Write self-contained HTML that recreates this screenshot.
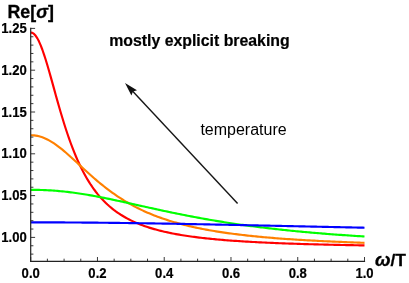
<!DOCTYPE html>
<html><head><meta charset="utf-8"><title>plot</title>
<style>
html,body{margin:0;padding:0;background:#fff;}
svg{display:block;will-change:transform;font-family:"Liberation Sans",sans-serif;}
</style></head>
<body>
<svg width="409" height="283" viewBox="0 0 409 283">
<rect width="409" height="283" fill="#fff"/>
<g>
<path d="M30.70,32.50 L32.37,32.86 L34.04,33.97 L35.71,35.82 L37.38,38.37 L39.05,41.59 L40.71,45.41 L42.38,49.76 L44.05,54.57 L45.72,59.77 L47.39,65.27 L49.06,71.00 L50.73,76.90 L52.40,82.89 L54.07,88.91 L55.73,94.93 L57.40,100.88 L59.07,106.74 L60.74,112.47 L62.41,118.06 L64.08,123.47 L65.75,128.71 L67.42,133.75 L69.09,138.60 L70.76,143.24 L72.42,147.69 L74.09,151.94 L75.76,156.00 L77.43,159.86 L79.10,163.54 L80.77,167.05 L82.44,170.38 L84.11,173.55 L85.78,176.56 L87.45,179.42 L89.12,182.14 L90.78,184.72 L92.45,187.18 L94.12,189.51 L95.79,191.73 L97.46,193.84 L99.13,195.85 L100.80,197.76 L102.47,199.58 L104.14,201.31 L105.81,202.95 L107.47,204.52 L109.14,206.02 L110.81,207.45 L112.48,208.81 L114.15,210.11 L115.82,211.35 L117.49,212.53 L119.16,213.66 L120.83,214.75 L122.50,215.78 L124.16,216.77 L125.83,217.72 L127.50,218.63 L129.17,219.50 L130.84,220.34 L132.51,221.14 L134.18,221.91 L135.85,222.65 L137.52,223.35 L139.19,224.03 L140.85,224.69 L142.52,225.32 L144.19,225.92 L145.86,226.51 L147.53,227.07 L149.20,227.61 L150.87,228.13 L152.54,228.63 L154.21,229.11 L155.88,229.58 L157.54,230.03 L159.21,230.46 L160.88,230.88 L162.55,231.29 L164.22,231.68 L165.89,232.06 L167.56,232.42 L169.23,232.78 L170.90,233.12 L172.56,233.45 L174.23,233.77 L175.90,234.09 L177.57,234.39 L179.24,234.68 L180.91,234.96 L182.58,235.24 L184.25,235.50 L185.92,235.76 L187.59,236.01 L189.25,236.25 L190.92,236.49 L192.59,236.72 L194.26,236.94 L195.93,237.16 L197.60,237.37 L199.27,237.57 L200.94,237.77 L202.61,237.96 L204.28,238.15 L205.94,238.34 L207.61,238.51 L209.28,238.69 L210.95,238.86 L212.62,239.02 L214.29,239.18 L215.96,239.34 L217.63,239.49 L219.30,239.64 L220.97,239.78 L222.64,239.92 L224.30,240.06 L225.97,240.20 L227.64,240.33 L229.31,240.45 L230.98,240.58 L232.65,240.70 L234.32,240.82 L235.99,240.94 L237.66,241.05 L239.32,241.16 L240.99,241.27 L242.66,241.37 L244.33,241.48 L246.00,241.58 L247.67,241.68 L249.34,241.77 L251.01,241.87 L252.68,241.96 L254.35,242.05 L256.02,242.14 L257.68,242.23 L259.35,242.31 L261.02,242.39 L262.69,242.48 L264.36,242.55 L266.03,242.63 L267.70,242.71 L269.37,242.78 L271.04,242.86 L272.70,242.93 L274.37,243.00 L276.04,243.07 L277.71,243.14 L279.38,243.20 L281.05,243.27 L282.72,243.33 L284.39,243.39 L286.06,243.45 L287.73,243.51 L289.39,243.57 L291.06,243.63 L292.73,243.69 L294.40,243.74 L296.07,243.80 L297.74,243.85 L299.41,243.91 L301.08,243.96 L302.75,244.01 L304.42,244.06 L306.09,244.11 L307.75,244.16 L309.42,244.20 L311.09,244.25 L312.76,244.29 L314.43,244.34 L316.10,244.38 L317.77,244.43 L319.44,244.47 L321.11,244.51 L322.77,244.55 L324.44,244.59 L326.11,244.63 L327.78,244.67 L329.45,244.71 L331.12,244.75 L332.79,244.79 L334.46,244.82 L336.13,244.86 L337.80,244.89 L339.47,244.93 L341.13,244.96 L342.80,245.00 L344.47,245.03 L346.14,245.06 L347.81,245.10 L349.48,245.13 L351.15,245.16 L352.82,245.19 L354.49,245.22 L356.15,245.25 L357.82,245.28 L359.49,245.31 L361.16,245.34 L362.83,245.37 L364.50,245.39" fill="none" stroke="#ff0000" stroke-width="2.15" stroke-linejoin="round"/>
<path d="M30.70,135.26 L32.37,135.30 L34.04,135.42 L35.71,135.63 L37.38,135.92 L39.05,136.30 L40.71,136.77 L42.38,137.33 L44.05,137.97 L45.72,138.69 L47.39,139.50 L49.06,140.38 L50.73,141.33 L52.40,142.35 L54.07,143.44 L55.73,144.59 L57.40,145.79 L59.07,147.05 L60.74,148.35 L62.41,149.70 L64.08,151.09 L65.75,152.51 L67.42,153.96 L69.09,155.44 L70.76,156.94 L72.42,158.45 L74.09,159.98 L75.76,161.52 L77.43,163.06 L79.10,164.61 L80.77,166.16 L82.44,167.70 L84.11,169.24 L85.78,170.77 L87.45,172.29 L89.12,173.80 L90.78,175.29 L92.45,176.76 L94.12,178.22 L95.79,179.66 L97.46,181.08 L99.13,182.47 L100.80,183.85 L102.47,185.20 L104.14,186.53 L105.81,187.83 L107.47,189.11 L109.14,190.37 L110.81,191.60 L112.48,192.80 L114.15,193.98 L115.82,195.14 L117.49,196.27 L119.16,197.37 L120.83,198.45 L122.50,199.51 L124.16,200.54 L125.83,201.55 L127.50,202.53 L129.17,203.49 L130.84,204.43 L132.51,205.35 L134.18,206.24 L135.85,207.11 L137.52,207.96 L139.19,208.79 L140.85,209.60 L142.52,210.39 L144.19,211.16 L145.86,211.91 L147.53,212.64 L149.20,213.35 L150.87,214.05 L152.54,214.73 L154.21,215.39 L155.88,216.04 L157.54,216.67 L159.21,217.28 L160.88,217.88 L162.55,218.46 L164.22,219.03 L165.89,219.59 L167.56,220.13 L169.23,220.66 L170.90,221.18 L172.56,221.68 L174.23,222.17 L175.90,222.65 L177.57,223.12 L179.24,223.58 L180.91,224.02 L182.58,224.46 L184.25,224.88 L185.92,225.30 L187.59,225.70 L189.25,226.10 L190.92,226.48 L192.59,226.86 L194.26,227.23 L195.93,227.59 L197.60,227.94 L199.27,228.28 L200.94,228.62 L202.61,228.95 L204.28,229.27 L205.94,229.58 L207.61,229.89 L209.28,230.19 L210.95,230.48 L212.62,230.77 L214.29,231.05 L215.96,231.32 L217.63,231.59 L219.30,231.85 L220.97,232.11 L222.64,232.36 L224.30,232.61 L225.97,232.85 L227.64,233.08 L229.31,233.32 L230.98,233.54 L232.65,233.76 L234.32,233.98 L235.99,234.19 L237.66,234.40 L239.32,234.60 L240.99,234.80 L242.66,235.00 L244.33,235.19 L246.00,235.38 L247.67,235.56 L249.34,235.74 L251.01,235.92 L252.68,236.09 L254.35,236.26 L256.02,236.43 L257.68,236.59 L259.35,236.75 L261.02,236.91 L262.69,237.07 L264.36,237.22 L266.03,237.37 L267.70,237.51 L269.37,237.65 L271.04,237.80 L272.70,237.93 L274.37,238.07 L276.04,238.20 L277.71,238.33 L279.38,238.46 L281.05,238.59 L282.72,238.71 L284.39,238.83 L286.06,238.95 L287.73,239.07 L289.39,239.18 L291.06,239.30 L292.73,239.41 L294.40,239.52 L296.07,239.62 L297.74,239.73 L299.41,239.83 L301.08,239.93 L302.75,240.04 L304.42,240.13 L306.09,240.23 L307.75,240.33 L309.42,240.42 L311.09,240.51 L312.76,240.60 L314.43,240.69 L316.10,240.78 L317.77,240.87 L319.44,240.95 L321.11,241.03 L322.77,241.12 L324.44,241.20 L326.11,241.28 L327.78,241.36 L329.45,241.43 L331.12,241.51 L332.79,241.58 L334.46,241.66 L336.13,241.73 L337.80,241.80 L339.47,241.87 L341.13,241.94 L342.80,242.01 L344.47,242.08 L346.14,242.14 L347.81,242.21 L349.48,242.27 L351.15,242.34 L352.82,242.40 L354.49,242.46 L356.15,242.52 L357.82,242.58 L359.49,242.64 L361.16,242.70 L362.83,242.75 L364.50,242.81" fill="none" stroke="#ff8000" stroke-width="2.15" stroke-linejoin="round"/>
<path d="M30.70,189.82 L32.37,189.82 L34.04,189.83 L35.71,189.85 L37.38,189.88 L39.05,189.91 L40.71,189.96 L42.38,190.01 L44.05,190.08 L45.72,190.15 L47.39,190.23 L49.06,190.32 L50.73,190.42 L52.40,190.53 L54.07,190.65 L55.73,190.78 L57.40,190.91 L59.07,191.06 L60.74,191.21 L62.41,191.38 L64.08,191.55 L65.75,191.73 L67.42,191.92 L69.09,192.12 L70.76,192.33 L72.42,192.54 L74.09,192.76 L75.76,192.99 L77.43,193.23 L79.10,193.48 L80.77,193.73 L82.44,193.99 L84.11,194.25 L85.78,194.53 L87.45,194.81 L89.12,195.09 L90.78,195.38 L92.45,195.68 L94.12,195.98 L95.79,196.29 L97.46,196.61 L99.13,196.92 L100.80,197.25 L102.47,197.58 L104.14,197.91 L105.81,198.24 L107.47,198.58 L109.14,198.92 L110.81,199.27 L112.48,199.62 L114.15,199.97 L115.82,200.33 L117.49,200.68 L119.16,201.04 L120.83,201.40 L122.50,201.77 L124.16,202.13 L125.83,202.50 L127.50,202.87 L129.17,203.24 L130.84,203.60 L132.51,203.98 L134.18,204.35 L135.85,204.72 L137.52,205.09 L139.19,205.46 L140.85,205.83 L142.52,206.20 L144.19,206.57 L145.86,206.94 L147.53,207.31 L149.20,207.68 L150.87,208.05 L152.54,208.42 L154.21,208.78 L155.88,209.15 L157.54,209.51 L159.21,209.87 L160.88,210.23 L162.55,210.59 L164.22,210.95 L165.89,211.30 L167.56,211.66 L169.23,212.01 L170.90,212.36 L172.56,212.70 L174.23,213.05 L175.90,213.39 L177.57,213.73 L179.24,214.07 L180.91,214.40 L182.58,214.74 L184.25,215.07 L185.92,215.39 L187.59,215.72 L189.25,216.04 L190.92,216.36 L192.59,216.68 L194.26,216.99 L195.93,217.31 L197.60,217.62 L199.27,217.92 L200.94,218.23 L202.61,218.53 L204.28,218.83 L205.94,219.12 L207.61,219.41 L209.28,219.71 L210.95,219.99 L212.62,220.28 L214.29,220.56 L215.96,220.84 L217.63,221.11 L219.30,221.39 L220.97,221.66 L222.64,221.92 L224.30,222.19 L225.97,222.45 L227.64,222.71 L229.31,222.97 L230.98,223.22 L232.65,223.47 L234.32,223.72 L235.99,223.97 L237.66,224.21 L239.32,224.45 L240.99,224.69 L242.66,224.92 L244.33,225.16 L246.00,225.39 L247.67,225.61 L249.34,225.84 L251.01,226.06 L252.68,226.28 L254.35,226.50 L256.02,226.71 L257.68,226.93 L259.35,227.14 L261.02,227.35 L262.69,227.55 L264.36,227.75 L266.03,227.95 L267.70,228.15 L269.37,228.35 L271.04,228.54 L272.70,228.73 L274.37,228.92 L276.04,229.11 L277.71,229.30 L279.38,229.48 L281.05,229.66 L282.72,229.84 L284.39,230.02 L286.06,230.19 L287.73,230.36 L289.39,230.53 L291.06,230.70 L292.73,230.87 L294.40,231.03 L296.07,231.20 L297.74,231.36 L299.41,231.52 L301.08,231.67 L302.75,231.83 L304.42,231.98 L306.09,232.13 L307.75,232.28 L309.42,232.43 L311.09,232.58 L312.76,232.72 L314.43,232.87 L316.10,233.01 L317.77,233.15 L319.44,233.29 L321.11,233.42 L322.77,233.56 L324.44,233.69 L326.11,233.82 L327.78,233.95 L329.45,234.08 L331.12,234.21 L332.79,234.34 L334.46,234.46 L336.13,234.58 L337.80,234.70 L339.47,234.82 L341.13,234.94 L342.80,235.06 L344.47,235.18 L346.14,235.29 L347.81,235.41 L349.48,235.52 L351.15,235.63 L352.82,235.74 L354.49,235.85 L356.15,235.96 L357.82,236.06 L359.49,236.17 L361.16,236.27 L362.83,236.37 L364.50,236.47" fill="none" stroke="#00ff00" stroke-width="2.15" stroke-linejoin="round"/>
<path d="M30.70,222.36 L32.37,222.36 L34.04,222.36 L35.71,222.36 L37.38,222.36 L39.05,222.37 L40.71,222.37 L42.38,222.37 L44.05,222.37 L45.72,222.38 L47.39,222.38 L49.06,222.39 L50.73,222.39 L52.40,222.40 L54.07,222.40 L55.73,222.41 L57.40,222.41 L59.07,222.42 L60.74,222.43 L62.41,222.44 L64.08,222.44 L65.75,222.45 L67.42,222.46 L69.09,222.47 L70.76,222.48 L72.42,222.49 L74.09,222.50 L75.76,222.51 L77.43,222.52 L79.10,222.53 L80.77,222.55 L82.44,222.56 L84.11,222.57 L85.78,222.59 L87.45,222.60 L89.12,222.61 L90.78,222.63 L92.45,222.64 L94.12,222.66 L95.79,222.67 L97.46,222.69 L99.13,222.70 L100.80,222.72 L102.47,222.74 L104.14,222.76 L105.81,222.77 L107.47,222.79 L109.14,222.81 L110.81,222.83 L112.48,222.85 L114.15,222.87 L115.82,222.89 L117.49,222.91 L119.16,222.93 L120.83,222.95 L122.50,222.97 L124.16,222.99 L125.83,223.01 L127.50,223.03 L129.17,223.06 L130.84,223.08 L132.51,223.10 L134.18,223.12 L135.85,223.15 L137.52,223.17 L139.19,223.20 L140.85,223.22 L142.52,223.25 L144.19,223.27 L145.86,223.30 L147.53,223.32 L149.20,223.35 L150.87,223.37 L152.54,223.40 L154.21,223.43 L155.88,223.45 L157.54,223.48 L159.21,223.51 L160.88,223.53 L162.55,223.56 L164.22,223.59 L165.89,223.62 L167.56,223.65 L169.23,223.68 L170.90,223.71 L172.56,223.73 L174.23,223.76 L175.90,223.79 L177.57,223.82 L179.24,223.85 L180.91,223.88 L182.58,223.91 L184.25,223.94 L185.92,223.98 L187.59,224.01 L189.25,224.04 L190.92,224.07 L192.59,224.10 L194.26,224.13 L195.93,224.16 L197.60,224.20 L199.27,224.23 L200.94,224.26 L202.61,224.29 L204.28,224.33 L205.94,224.36 L207.61,224.39 L209.28,224.43 L210.95,224.46 L212.62,224.49 L214.29,224.53 L215.96,224.56 L217.63,224.59 L219.30,224.63 L220.97,224.66 L222.64,224.70 L224.30,224.73 L225.97,224.76 L227.64,224.80 L229.31,224.83 L230.98,224.87 L232.65,224.90 L234.32,224.94 L235.99,224.97 L237.66,225.01 L239.32,225.04 L240.99,225.08 L242.66,225.11 L244.33,225.15 L246.00,225.18 L247.67,225.22 L249.34,225.25 L251.01,225.29 L252.68,225.33 L254.35,225.36 L256.02,225.40 L257.68,225.43 L259.35,225.47 L261.02,225.50 L262.69,225.54 L264.36,225.58 L266.03,225.61 L267.70,225.65 L269.37,225.68 L271.04,225.72 L272.70,225.76 L274.37,225.79 L276.04,225.83 L277.71,225.86 L279.38,225.90 L281.05,225.94 L282.72,225.97 L284.39,226.01 L286.06,226.05 L287.73,226.08 L289.39,226.12 L291.06,226.15 L292.73,226.19 L294.40,226.23 L296.07,226.26 L297.74,226.30 L299.41,226.33 L301.08,226.37 L302.75,226.41 L304.42,226.44 L306.09,226.48 L307.75,226.51 L309.42,226.55 L311.09,226.59 L312.76,226.62 L314.43,226.66 L316.10,226.69 L317.77,226.73 L319.44,226.77 L321.11,226.80 L322.77,226.84 L324.44,226.87 L326.11,226.91 L327.78,226.94 L329.45,226.98 L331.12,227.01 L332.79,227.05 L334.46,227.09 L336.13,227.12 L337.80,227.16 L339.47,227.19 L341.13,227.23 L342.80,227.26 L344.47,227.30 L346.14,227.33 L347.81,227.37 L349.48,227.40 L351.15,227.44 L352.82,227.47 L354.49,227.50 L356.15,227.54 L357.82,227.57 L359.49,227.61 L361.16,227.64 L362.83,227.68 L364.50,227.71" fill="none" stroke="#0000ff" stroke-width="2.15" stroke-linejoin="round"/>
</g>
<g stroke="#222" stroke-width="1.2" fill="none">
<line x1="30.70" y1="27.80" x2="30.70" y2="262.00"/>
<line x1="30.10" y1="261.40" x2="365.10" y2="261.40"/>
</g>
<g stroke="#222" stroke-width="0.9" fill="none">
<line x1="30.70" y1="254.12" x2="33.40" y2="254.12"/>
<line x1="30.70" y1="245.76" x2="33.40" y2="245.76"/>
<line x1="30.70" y1="237.40" x2="35.10" y2="237.40"/>
<line x1="30.70" y1="229.04" x2="33.40" y2="229.04"/>
<line x1="30.70" y1="220.68" x2="33.40" y2="220.68"/>
<line x1="30.70" y1="212.32" x2="33.40" y2="212.32"/>
<line x1="30.70" y1="203.96" x2="33.40" y2="203.96"/>
<line x1="30.70" y1="195.60" x2="35.10" y2="195.60"/>
<line x1="30.70" y1="187.24" x2="33.40" y2="187.24"/>
<line x1="30.70" y1="178.88" x2="33.40" y2="178.88"/>
<line x1="30.70" y1="170.52" x2="33.40" y2="170.52"/>
<line x1="30.70" y1="162.16" x2="33.40" y2="162.16"/>
<line x1="30.70" y1="153.80" x2="35.10" y2="153.80"/>
<line x1="30.70" y1="145.44" x2="33.40" y2="145.44"/>
<line x1="30.70" y1="137.08" x2="33.40" y2="137.08"/>
<line x1="30.70" y1="128.72" x2="33.40" y2="128.72"/>
<line x1="30.70" y1="120.36" x2="33.40" y2="120.36"/>
<line x1="30.70" y1="112.00" x2="35.10" y2="112.00"/>
<line x1="30.70" y1="103.64" x2="33.40" y2="103.64"/>
<line x1="30.70" y1="95.28" x2="33.40" y2="95.28"/>
<line x1="30.70" y1="86.92" x2="33.40" y2="86.92"/>
<line x1="30.70" y1="78.56" x2="33.40" y2="78.56"/>
<line x1="30.70" y1="70.20" x2="35.10" y2="70.20"/>
<line x1="30.70" y1="61.84" x2="33.40" y2="61.84"/>
<line x1="30.70" y1="53.48" x2="33.40" y2="53.48"/>
<line x1="30.70" y1="45.12" x2="33.40" y2="45.12"/>
<line x1="30.70" y1="36.76" x2="33.40" y2="36.76"/>
<line x1="30.70" y1="28.40" x2="35.10" y2="28.40"/>
<line x1="30.70" y1="261.40" x2="30.70" y2="257.00"/>
<line x1="47.39" y1="261.40" x2="47.39" y2="258.70"/>
<line x1="64.08" y1="261.40" x2="64.08" y2="258.70"/>
<line x1="80.77" y1="261.40" x2="80.77" y2="258.70"/>
<line x1="97.46" y1="261.40" x2="97.46" y2="257.00"/>
<line x1="114.15" y1="261.40" x2="114.15" y2="258.70"/>
<line x1="130.84" y1="261.40" x2="130.84" y2="258.70"/>
<line x1="147.53" y1="261.40" x2="147.53" y2="258.70"/>
<line x1="164.22" y1="261.40" x2="164.22" y2="257.00"/>
<line x1="180.91" y1="261.40" x2="180.91" y2="258.70"/>
<line x1="197.60" y1="261.40" x2="197.60" y2="258.70"/>
<line x1="214.29" y1="261.40" x2="214.29" y2="258.70"/>
<line x1="230.98" y1="261.40" x2="230.98" y2="257.00"/>
<line x1="247.67" y1="261.40" x2="247.67" y2="258.70"/>
<line x1="264.36" y1="261.40" x2="264.36" y2="258.70"/>
<line x1="281.05" y1="261.40" x2="281.05" y2="258.70"/>
<line x1="297.74" y1="261.40" x2="297.74" y2="257.00"/>
<line x1="314.43" y1="261.40" x2="314.43" y2="258.70"/>
<line x1="331.12" y1="261.40" x2="331.12" y2="258.70"/>
<line x1="347.81" y1="261.40" x2="347.81" y2="258.70"/>
<line x1="364.50" y1="261.40" x2="364.50" y2="257.00"/>
</g>
<g font-weight="bold" font-size="13.8px" fill="#000" stroke="#000" stroke-width="0.2">
<text transform="translate(26.8,242.00) scale(0.95,1)" text-anchor="end">1.00</text>
<text transform="translate(26.8,200.20) scale(0.95,1)" text-anchor="end">1.05</text>
<text transform="translate(26.8,158.40) scale(0.95,1)" text-anchor="end">1.10</text>
<text transform="translate(26.8,116.60) scale(0.95,1)" text-anchor="end">1.15</text>
<text transform="translate(26.8,74.80) scale(0.95,1)" text-anchor="end">1.20</text>
<text transform="translate(26.8,33.00) scale(0.95,1)" text-anchor="end">1.25</text>
<text transform="translate(30.70,278.0) scale(0.95,1)" text-anchor="middle">0.0</text>
<text transform="translate(97.46,278.0) scale(0.95,1)" text-anchor="middle">0.2</text>
<text transform="translate(164.22,278.0) scale(0.95,1)" text-anchor="middle">0.4</text>
<text transform="translate(230.98,278.0) scale(0.95,1)" text-anchor="middle">0.6</text>
<text transform="translate(297.74,278.0) scale(0.95,1)" text-anchor="middle">0.8</text>
<text transform="translate(364.50,278.0) scale(0.95,1)" text-anchor="middle">1.0</text>
</g>
<text x="7.5" y="17.5" font-weight="bold" font-size="17.8px" fill="#000" stroke="#000" stroke-width="0.3">Re[<tspan font-style="italic">σ</tspan>]</text>
<text x="375.0" y="265.6" font-weight="bold" font-size="17.4px" fill="#000" stroke="#000" stroke-width="0.3"><tspan font-style="italic" font-size="18.6px">ω</tspan>/T</text>
<text x="109.2" y="46" font-weight="bold" font-size="15.85px" fill="#000" stroke="#000" stroke-width="0.2">mostly explicit breaking</text>
<text x="200.4" y="134.5" font-size="16px" fill="#000">temperature</text>
<g stroke="#161616" stroke-width="1.4" fill="#111">
<line x1="237.6" y1="203.6" x2="132.7" y2="91.3" stroke-linecap="butt"/>
<path d="M125.0,83.0 L137.0,90.3 L133.0,91.6 L131.4,95.5 Z" stroke="none"/>
</g>
</svg>
</body></html>
